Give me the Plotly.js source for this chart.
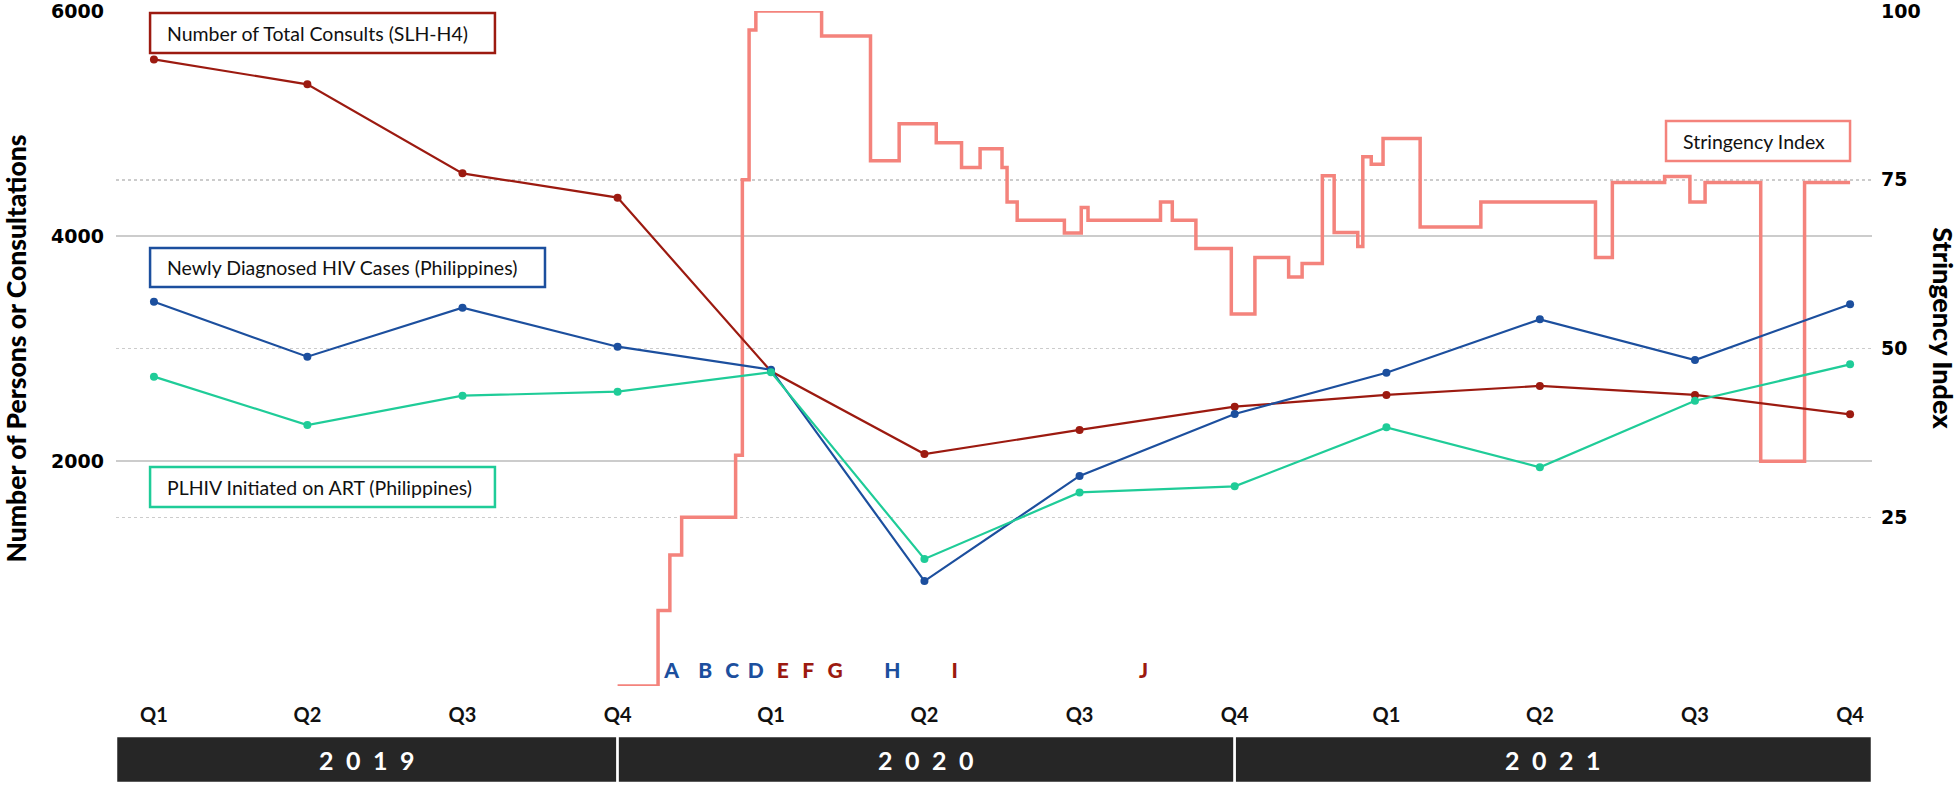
<!DOCTYPE html>
<html>
<head>
<meta charset="utf-8">
<script src="https://cdn.plot.ly/plotly-3.0.1.min.js"></script>
<style>html,body{margin:0;padding:0;background:#fff;}#chart{width:1960px;height:786px;}</style>
</head>
<body>
<div id="chart"></div>
<script>
// ---- Data ----
// Quarterly points are plotted at the end of each quarter
var quarterDates = ['2019-04-01','2019-07-01','2019-10-01','2020-01-01','2020-04-01','2020-07-01','2020-10-01','2021-01-01','2021-04-01','2021-07-01','2021-10-01','2022-01-01'];
var quarterLabels = ['Q1','Q2','Q3','Q4','Q1','Q2','Q3','Q4','Q1','Q2','Q3','Q4'];
var totalConsults = [5570, 5348, 4557, 4341, 2797, 2062, 2276, 2483, 2587, 2667, 2587, 2415];
var newlyDiagnosed = [3416, 2927, 3363, 3016, 2812, 933, 1867, 2418, 2785, 3259, 2898, 3393];
var artInitiated = [2750, 2320, 2581, 2616, 2790, 1129, 1721, 1775, 2299, 1944, 2536, 2859];

// Stringency Index (step changes)
var stringencyDates = ['2020-01-01','2020-01-25','2020-02-01','2020-02-08','2020-03-11','2020-03-15','2020-03-19','2020-03-23',
  '2020-05-01','2020-05-30','2020-06-16','2020-07-08','2020-07-23','2020-08-03','2020-08-16','2020-08-19','2020-08-25',
  '2020-09-22','2020-10-02','2020-10-06','2020-11-18','2020-11-25','2020-12-09','2020-12-30',
  '2021-01-13','2021-02-02','2021-02-10','2021-02-22','2021-03-01','2021-03-15','2021-03-18','2021-03-23','2021-03-30',
  '2021-04-21','2021-05-27','2021-08-03','2021-08-13','2021-09-13','2021-09-28','2021-10-07','2021-11-09','2021-12-05','2022-01-01'];
var stringencyValues = [0, 11.2, 19.4, 25.0, 34.2, 75.0, 97.2, 100,
  96.3, 77.8, 83.3, 80.5, 76.8, 79.6, 76.8, 71.7, 69.0,
  67.1, 70.9, 69.0, 71.7, 69.0, 64.8, 55.1,
  63.5, 60.6, 62.6, 75.6, 67.2, 65.1, 78.4, 77.3, 81.1,
  68.0, 71.7, 63.5, 74.6, 75.5, 71.7, 74.6, 33.3, 74.6, 74.6];

// Event markers
var eventLetters = ['A','B','C','D','E','F','G','H','I','J'];
var eventDates = ['2020-02-02','2020-02-22','2020-03-09','2020-03-23','2020-04-08','2020-04-23','2020-05-09','2020-06-12','2020-07-19','2020-11-08'];
var eventColorKeys = ['blue','blue','blue','blue','red','red','red','blue','red','red'];

var years = ['2019','2020','2021'];
var yearBounds = ['2019-03-09 12:00','2020-01-01','2021-01-01','2022-01-14'];

var leftTicks = [0, 2000, 4000, 6000];
var leftTickText = ['', '2000', '4000', '6000'];
var rightTicks = [25, 50, 75, 100];

// ---- Styles ----
var C = {red:'#9c1a10', blue:'#1c4f9e', green:'#1fcc98', salmon:'#f4837c', band:'#262626', grid:'#cccccc'};
var FONT = 'Lato, "Open Sans", sans-serif';
var NUMFONT = '"DejaVu Sans", Lato, sans-serif';

function toMs(s){ return new Date(s.length > 10 ? s.replace(' ','T') + 'Z' : s + 'T00:00:00Z').getTime(); }
function mid(a, b){ return new Date((toMs(a) + toMs(b)) / 2).toISOString().slice(0,19).replace('T',' '); }

var traces = [
  {type:'scatter', mode:'lines', name:'Stringency Index', x:stringencyDates, y:stringencyValues, yaxis:'y',
   line:{shape:'hv', color:C.salmon, width:3.5}, hoverinfo:'x+y'},
  {type:'scatter', mode:'lines+markers', name:'Number of Total Consults (SLH-H4)', x:quarterDates, y:totalConsults, yaxis:'y2',
   line:{color:C.red, width:2.2}, marker:{color:C.red, size:8}},
  {type:'scatter', mode:'lines+markers', name:'Newly Diagnosed HIV Cases (Philippines)', x:quarterDates, y:newlyDiagnosed, yaxis:'y2',
   line:{color:C.blue, width:2.2}, marker:{color:C.blue, size:8}},
  {type:'scatter', mode:'lines+markers', name:'PLHIV Initiated on ART (Philippines)', x:quarterDates, y:artInitiated, yaxis:'y2',
   line:{color:C.green, width:2.2}, marker:{color:C.green, size:8}},
  {type:'scatter', mode:'text', name:'Events', x:eventDates, y:eventDates.map(function(){return 115;}), yaxis:'y2',
   text:eventLetters, textposition:'middle center', cliponaxis:false,
   textfont:{family:FONT, size:21, weight:900, color:eventColorKeys.map(function(k){return C[k];})}, hoverinfo:'x+text'}
];

var shapes = [];
var annotations = [];
for (var i = 0; i < years.length; i++) {
  shapes.push({type:'rect', xref:'x', yref:'paper', x0:yearBounds[i], x1:yearBounds[i+1], y0:-0.1437, y1:-0.0741,
    fillcolor:C.band, line:{color:'#ffffff', width:2.5}, layer:'above'});
  annotations.push({xref:'x', yref:'paper', x:mid(yearBounds[i], yearBounds[i+1]), y:-0.109, xanchor:'center', yanchor:'middle',
    text:years[i].split('').join('\u2002'), showarrow:false, font:{family:FONT, size:25, weight:700, color:'#ffffff'}});
}

// Legend boxes (paper coordinates)
var legendBoxes = [
  {text:'Number of Total Consults (SLH-H4)', color:C.red, x0:0.0194, x1:0.2158, y0:0.9378, y1:0.9970},
  {text:'Newly Diagnosed HIV Cases (Philippines)', color:C.blue, x0:0.0194, x1:0.2443, y0:0.5911, y1:0.6489},
  {text:'PLHIV Initiated on ART (Philippines)', color:C.green, x0:0.0194, x1:0.2158, y0:0.2652, y1:0.3244},
  {text:'Stringency Index', color:C.salmon, x0:0.8827, x1:0.9875, y0:0.7778, y1:0.8370}
];
legendBoxes.forEach(function(b){
  shapes.push({type:'rect', xref:'paper', yref:'paper', x0:b.x0, x1:b.x1, y0:b.y0, y1:b.y1,
    fillcolor:'#ffffff', line:{color:b.color, width:2.5}, layer:'above'});
  annotations.push({xref:'paper', yref:'paper', x:b.x0, xshift:15, y:(b.y0+b.y1)/2, xanchor:'left', yanchor:'middle',
    text:b.text, showarrow:false, font:{family:FONT, size:19.5, color:'#111111'}});
});

annotations.push({xref:'paper', yref:'paper', x:1, xshift:72, y:0.53, xanchor:'center', yanchor:'middle',
  text:'Stringency Index', textangle:90, showarrow:false, font:{family:FONT, size:27, weight:900, color:'#000000'}});

var layout = {
  width:1960, height:786,
  margin:{l:116, r:88, t:11, b:100, pad:0},
  paper_bgcolor:'#ffffff', plot_bgcolor:'#ffffff',
  showlegend:false,
  font:{family:FONT, color:'#111111'},
  xaxis:{type:'date', range:[yearBounds[0], yearBounds[3]], tickvals:quarterDates, ticktext:quarterLabels,
    showgrid:false, zeroline:false, showline:false, ticks:'', ticklabelstandoff:15,
    tickfont:{family:FONT, size:20, weight:700, color:'#111111'}},
  yaxis:{side:'right', range:[0,100], tickvals:rightTicks, showgrid:true, griddash:'dot', gridcolor:C.grid, gridwidth:1.5,
    zeroline:false, showline:false, ticks:'', ticklabelstandoff:8, ticklabeloverflow:'allow',
    tickfont:{family:NUMFONT, size:19, weight:700, color:'#000000'}},
  yaxis2:{side:'left', overlaying:'y', range:[0,6000], tickvals:leftTicks, ticktext:leftTickText,
    showgrid:true, gridcolor:C.grid, gridwidth:1.5, zeroline:false, showline:false, ticks:'', ticklabelstandoff:11,
    ticklabeloverflow:'allow',
    tickfont:{family:NUMFONT, size:19, weight:700, color:'#000000'},
    title:{text:'Number of Persons or Consultations', standoff:16, font:{family:FONT, size:26.5, weight:900, color:'#000000'}}},
  shapes:shapes,
  annotations:annotations
};

Plotly.newPlot('chart', traces, layout, {staticPlot:true, displayModeBar:false});
</script>
</body>
</html>
